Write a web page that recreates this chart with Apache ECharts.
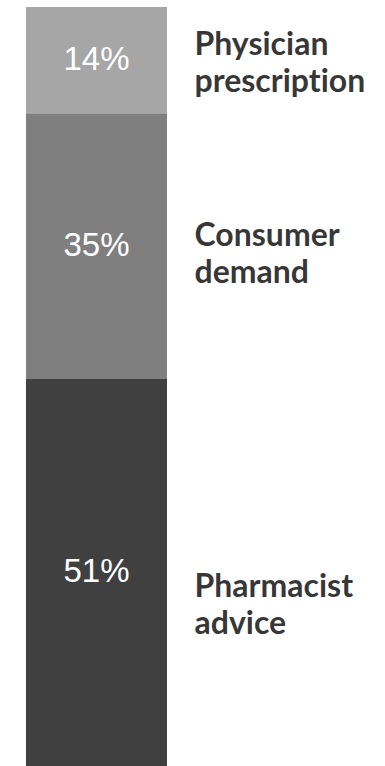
<!DOCTYPE html>
<html>
<head>
<meta charset="utf-8">
<style>
html,body{margin:0;padding:0;background:#fff;}
#chart{width:385px;height:766px;}
#chart text{font-variant-ligatures:none;font-feature-settings:"liga" 0,"clig" 0;}
</style>
<script src="https://cdn.jsdelivr.net/npm/echarts@6/dist/echarts.min.js"></script>
</head>
<body>
<div id="chart"></div>
<script>
// Data (bottom to top)
const categories = ['Pharmacist\nadvice', 'Consumer\ndemand', 'Physician\nprescription'];
const shares = [51, 35, 14];
const colors = ['#404040', '#7f7f7f', '#a6a6a6'];
const nameOffsets = [[0, 31], [0, 6], [0, 1]];

const chart = echarts.init(document.getElementById('chart'), null, {renderer: 'svg'});

const barSeries = shares.map((v, i) => ({
  type: 'bar',
  name: categories[i],
  stack: 'total',
  barWidth: '100%',
  data: [v],
  itemStyle: {color: colors[i]},
  label: {
    show: true,
    position: 'inside',
    offset: [0, -2],
    formatter: '{c}%',
    color: '#ffffff',
    fontFamily: 'Liberation Sans, Arial, sans-serif',
    fontSize: 33
  },
  silent: true
}));

// midpoints of each segment, from the data
let acc = 0;
const mids = shares.map(v => { const m = acc + v / 2; acc += v; return m; });

const nameSeries = {
  type: 'scatter',
  symbolSize: 0,
  silent: true,
  data: mids.map((m, i) => ({
    value: [0, m],
    label: {
      show: true,
      position: 'right',
      distance: 0,
      offset: [98, nameOffsets[i][1]],
      formatter: categories[i],
      color: '#000',
      fontFamily: 'Lato, sans-serif',
      fontWeight: 'bold',
      fontSize: 32,
      lineHeight: 37,
      align: 'left'
    }
  })),
  z: 10
};

chart.setOption({
  animation: false,
  backgroundColor: '#ffffff',
  grid: {left: 26, width: 141, top: 7, bottom: 0, containLabel: false},
  xAxis: {
    type: 'category',
    data: ['share'],
    show: false,
    boundaryGap: true
  },
  yAxis: {
    type: 'value',
    min: 0,
    max: 100,
    show: false
  },
  series: [...barSeries, nameSeries]
});
</script>
</body>
</html>
